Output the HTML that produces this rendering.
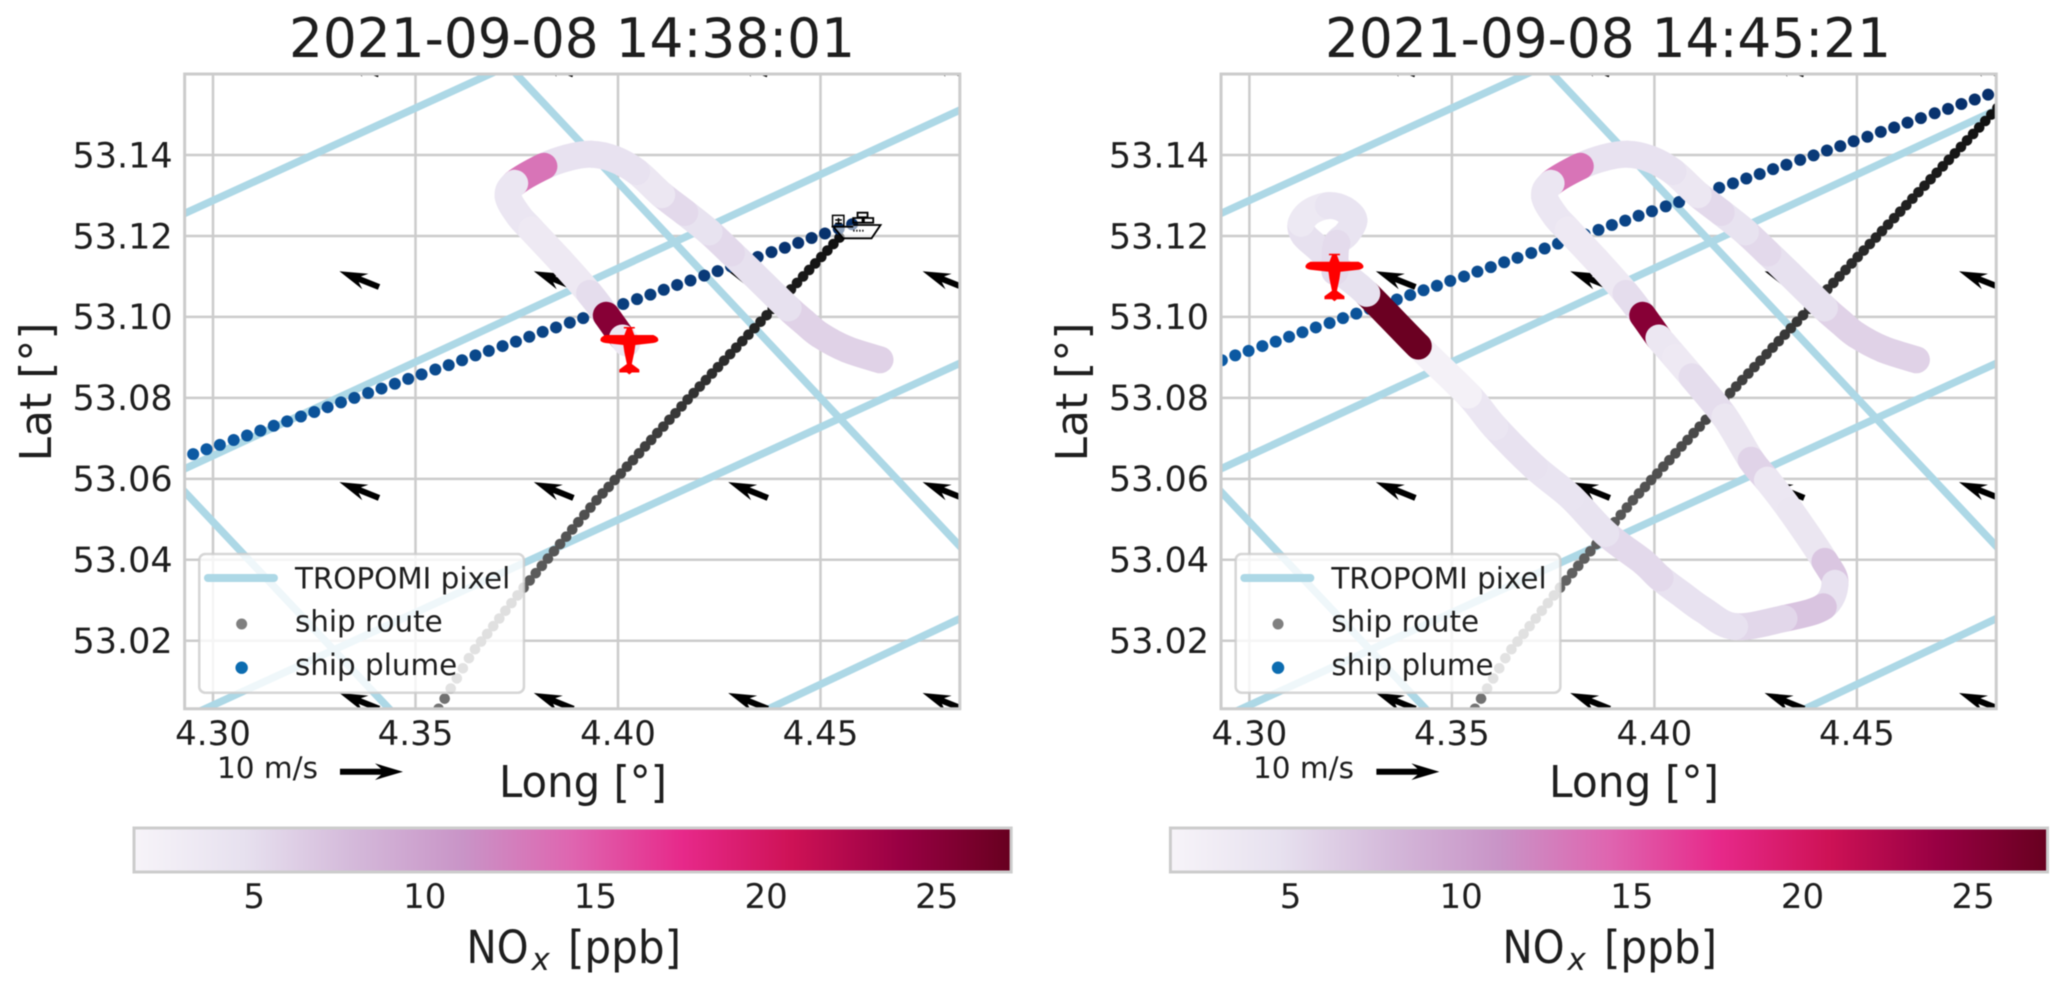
<!DOCTYPE html>
<html lang="en">
<head>
<meta charset="utf-8">
<title>NOx flight track and ship plume</title>
<style>
html,body{margin:0;padding:0;background:#fff;}
svg{display:block;filter:blur(0.4px);}
text{font-family:"DejaVu Sans","Liberation Sans",sans-serif;fill:#1e1e1e;}
</style>
</head>
<body>
<svg id="figure" xmlns="http://www.w3.org/2000/svg" width="2067" height="990" viewBox="0 0 2067 990">
  <defs>
    <linearGradient id="purd-gradient">
      <stop offset="0" stop-color="#f7f4f9"/><stop offset="0.125" stop-color="#e7e1ef"/>
      <stop offset="0.25" stop-color="#d4b9da"/><stop offset="0.375" stop-color="#c994c7"/>
      <stop offset="0.5" stop-color="#df65b0"/><stop offset="0.625" stop-color="#e7298a"/>
      <stop offset="0.75" stop-color="#ce1256"/><stop offset="0.875" stop-color="#980043"/>
      <stop offset="1" stop-color="#67001f"/>
    </linearGradient>
  </defs>
  <rect x="0" y="0" width="2067" height="990" fill="#ffffff"/>

  <g id="panel-a">
    <text x="572" y="57" font-size="54" text-anchor="middle" textLength="566" lengthAdjust="spacingAndGlyphs">2021-09-08 14:38:01</text>
    <text x="51" y="392" font-size="44" text-anchor="middle" transform="rotate(-90 51 392)">Lat [°]</text>
    <text x="499" y="797" font-size="44" textLength="168" lengthAdjust="spacingAndGlyphs">Long [°]</text>
    <text x="217" y="778" font-size="29.5">10 m/s</text>
    <text x="466.5" y="963" font-size="45" textLength="62" lengthAdjust="spacingAndGlyphs">NO</text>
    <text x="531.5" y="970" font-size="31" font-style="italic">x</text>
    <text x="568" y="963" font-size="45" textLength="113" lengthAdjust="spacingAndGlyphs">[ppb]</text>
  </g>

  <g id="panel-b">
    <text x="1608" y="57" font-size="54" text-anchor="middle" textLength="566" lengthAdjust="spacingAndGlyphs">2021-09-08 14:45:21</text>
    <text x="1087" y="392" font-size="44" text-anchor="middle" transform="rotate(-90 1087 392)">Lat [°]</text>
    <text x="1549" y="797" font-size="44" textLength="170" lengthAdjust="spacingAndGlyphs">Long [°]</text>
    <text x="1253" y="778" font-size="29.5">10 m/s</text>
    <text x="1502.5" y="963" font-size="45" textLength="62" lengthAdjust="spacingAndGlyphs">NO</text>
    <text x="1567.5" y="970" font-size="31" font-style="italic">x</text>
    <text x="1604" y="963" font-size="45" textLength="113" lengthAdjust="spacingAndGlyphs">[ppb]</text>
  </g>
</svg>

<script>
// ---------- axis data ----------
const xTickValues = [4.30, 4.35, 4.40, 4.45];
const xTickLabels = ['4.30', '4.35', '4.40', '4.45'];
const yTickValues = [53.14, 53.12, 53.10, 53.08, 53.06, 53.04, 53.02];
const yTickLabels = ['53.14', '53.12', '53.10', '53.08', '53.06', '53.04', '53.02'];
const lonLimits = [4.293, 4.4844];
const latLimits = [53.0032, 53.16];
const noxLimits = [1.48, 27.18];
const colorbarTickValues = [5, 10, 15, 20, 25];
const colorbarTickLabels = ['5', '10', '15', '20', '25'];

// ---------- TROPOMI pixel edges ----------
const pixelLonStart = [4.29, 4.29, 4.29, 4.43, 4.37, 4.29];
const pixelLatStart = [53.1242, 53.0611, 52.9995, 52.9998, 53.1652, 53.0600];
const pixelLonEnd = [4.38, 4.49, 4.49, 4.49, 4.49, 4.35];
const pixelLatEnd = [53.1653, 53.1537, 53.0911, 53.0281, 53.0374, 52.9963];

// ---------- wind field ----------
const windLons = [4.341, 4.389, 4.437, 4.485];
const windLats = [53.1599, 53.1074, 53.0553, 53.0032];
const windU = [-6.3];
const windV = [2.5];
const windReferenceSpeed = [10];

// ---------- ship route (oldest to newest) ----------
const routeLon = [4.3557,4.3572,4.3587,4.3602,4.3617,4.3632,4.3647,4.3662,4.3677,4.3692,4.3707,4.3722,4.3737,4.3752,4.3767,4.3782,4.3797,4.3812,4.3827,4.3842,4.3857,4.3872,4.3887,4.3902,4.3917,4.3932,4.3947,4.3962,4.3977,4.3992,4.4007,4.4022,4.4037,4.4052,4.4067,4.4082,4.4097,4.4112,4.4127,4.4142,4.4157,4.4172,4.4187,4.4202,4.4217,4.4232,4.4247,4.4262,4.4277,4.4292,4.4307,4.4322,4.4337,4.4352,4.4367,4.4382,4.4397,4.4412,4.4427,4.4442,4.4457,4.4472,4.4487,4.4502,4.4517,4.4532,4.4547,4.4562,4.4577,4.4592,4.4607,4.4622,4.4637,4.4652,4.4667,4.4682,4.4697,4.4712,4.4727,4.4742,4.4757,4.4772,4.4787,4.4802,4.4817,4.4832,4.4847];
const routeLat = [53.0032,53.0057,53.0082,53.0107,53.0132,53.0157,53.0179,53.0198,53.0217,53.0236,53.0255,53.0274,53.0293,53.0312,53.0331,53.0349,53.0367,53.0385,53.0403,53.0421,53.0439,53.0457,53.0475,53.0493,53.0511,53.0529,53.0547,53.0564,53.0580,53.0597,53.0613,53.0630,53.0646,53.0663,53.0680,53.0696,53.0713,53.0729,53.0746,53.0762,53.0779,53.0796,53.0812,53.0828,53.0844,53.0860,53.0876,53.0892,53.0908,53.0924,53.0940,53.0956,53.0972,53.0988,53.1004,53.1020,53.1036,53.1052,53.1068,53.1084,53.1100,53.1116,53.1132,53.1148,53.1164,53.1180,53.1196,53.1212,53.1228,53.1244,53.1260,53.1276,53.1292,53.1308,53.1324,53.1340,53.1356,53.1372,53.1388,53.1404,53.1420,53.1436,53.1452,53.1468,53.1484,53.1500,53.1516];
const routeCountByPanel = [67, 87];

// ---------- ship plume per panel ----------
const plumeLonA = [4.2951,4.2984,4.3017,4.3051,4.3084,4.3117,4.3150,4.3183,4.3217,4.3250,4.3283,4.3316,4.3349,4.3383,4.3416,4.3449,4.3482,4.3515,4.3549,4.3582,4.3615,4.3648,4.3681,4.3715,4.3748,4.3781,4.3814,4.3847,4.3881,4.3914,4.3947,4.3980,4.4013,4.4047,4.4080,4.4113,4.4146,4.4179,4.4213,4.4246,4.4279,4.4312,4.4345,4.4379,4.4412,4.4445,4.4478,4.4511,4.4545,4.4578];
const plumeLatA = [53.0661,53.0673,53.0684,53.0696,53.0707,53.0719,53.0731,53.0742,53.0754,53.0765,53.0777,53.0789,53.0800,53.0812,53.0823,53.0835,53.0847,53.0858,53.0870,53.0881,53.0893,53.0905,53.0916,53.0928,53.0939,53.0951,53.0963,53.0974,53.0986,53.0997,53.1009,53.1021,53.1032,53.1044,53.1055,53.1067,53.1079,53.1090,53.1102,53.1113,53.1125,53.1137,53.1148,53.1160,53.1171,53.1183,53.1195,53.1206,53.1218,53.1229];
const plumeLonB = [4.2932,4.2965,4.2998,4.3032,4.3065,4.3098,4.3131,4.3164,4.3198,4.3231,4.3264,4.3297,4.3330,4.3364,4.3397,4.3430,4.3463,4.3496,4.3530,4.3563,4.3596,4.3629,4.3662,4.3696,4.3729,4.3762,4.3795,4.3828,4.3862,4.3895,4.3928,4.3961,4.3994,4.4028,4.4061,4.4094,4.4127,4.4160,4.4194,4.4227,4.4260,4.4293,4.4326,4.4360,4.4393,4.4426,4.4459,4.4492,4.4526,4.4559,4.4592,4.4625,4.4658,4.4692,4.4725,4.4758,4.4791,4.4824];
const plumeLatB = [53.0893,53.0905,53.0916,53.0928,53.0939,53.0951,53.0962,53.0974,53.0985,53.0997,53.1008,53.1020,53.1031,53.1043,53.1054,53.1066,53.1077,53.1089,53.1100,53.1112,53.1123,53.1135,53.1146,53.1158,53.1169,53.1181,53.1192,53.1204,53.1215,53.1227,53.1238,53.1250,53.1261,53.1273,53.1284,53.1296,53.1307,53.1319,53.1330,53.1342,53.1353,53.1365,53.1376,53.1388,53.1399,53.1411,53.1422,53.1434,53.1445,53.1457,53.1468,53.1480,53.1491,53.1503,53.1514,53.1526,53.1537,53.1549];

// ---------- flight track with NOx ----------
const flightLon = [4.4647,4.4565,4.4499,4.4460,4.4420,4.4334,4.4280,4.4225,4.4165,4.4108,4.4046,4.3990,4.3935,4.3875,4.3817,4.3745,4.3729,4.3755,4.3787,4.3857,4.3930,4.3971,4.4011,4.4022,4.4052,4.4093,4.4174,4.4239,4.4279,4.4336,4.4421,4.4446,4.4417,4.4320,4.4198,4.4121,4.4071,4.4014,4.3972,4.3880,4.3794,4.3703,4.3606,4.3541,4.3417,4.3290,4.3232,4.3175,4.3135,4.3128,4.3151,4.3195,4.3235,4.3258,4.3240,4.3216,4.3211,4.3211];
const flightLat = [53.0894,53.0920,53.0955,53.0987,53.1022,53.1106,53.1158,53.1210,53.1258,53.1302,53.1359,53.1390,53.1402,53.1393,53.1372,53.1330,53.1297,53.1250,53.1215,53.1140,53.1058,53.1004,53.0948,53.0935,53.0900,53.0852,53.0753,53.0646,53.0597,53.0522,53.0396,53.0342,53.0284,53.0255,53.0235,53.0276,53.0312,53.0355,53.0395,53.0465,53.0555,53.0630,53.0728,53.0807,53.0928,53.1058,53.1107,53.1165,53.1202,53.1231,53.1260,53.1275,53.1265,53.1239,53.1205,53.1182,53.1140,53.1112];
const flightNox = [5.9,5.9,5.9,5.9,4.7,4.7,5.3,4.4,5.3,3.7,4.5,4.5,4.5,4.5,13.3,3.8,3.8,3.8,3.3,3.3,5.0,25.1,3.6,3.6,3.3,5.0,3.9,5.8,3.6,3.9,6.9,4.5,7.0,5.5,4.5,4.5,4.5,5.3,5.3,4.4,4.2,4.5,3.8,2.0,26.9,4.6,4.6,4.7,4.7,3.4,3.4,4.2,4.2,4.2,4.2,5.2,5.2,5.2];
const flightCountByPanel = [24, 58];

// ---------- aircraft and ship markers ----------
const planeLon = [4.4028, 4.3210];
const planeLat = [53.0943, 53.1124];
const shipLon = [4.4589];
const shipLat = [53.1223];

// ---------- colormap ----------
const purdStops = ['#f7f4f9','#e7e1ef','#d4b9da','#c994c7','#df65b0','#e7298a','#ce1256','#980043','#67001f'];

// ---------- helpers ----------
const SVGNS = 'http://www.w3.org/2000/svg';
const panelX0 = [213, 1249.4];
const colorbarX0 = [134, 1170.4];
const colorbarPxPerUnit = 34.13;
const axisScale = 4050;

function xScale(p, lon) { return panelX0[p] + (lon - 4.30) * axisScale; }
function yScale(lat) { return 155 + (53.14 - lat) * 4048; }
function cbarScale(p, v) { return colorbarX0[p] + (v - noxLimits[0]) * colorbarPxPerUnit; }

function make(tag, parent, attrs) {
  const el = document.createElementNS(SVGNS, tag);
  for (const k in attrs) el.setAttribute(k, attrs[k]);
  parent.appendChild(el);
  return el;
}
function hexToRgb(h) { return [1, 3, 5].map(function (i) { return parseInt(h.substr(i, 2), 16); }); }
function noxColor(v) {
  const t = Math.max(0, Math.min(1, (v - noxLimits[0]) / (noxLimits[1] - noxLimits[0]))) * (purdStops.length - 1);
  const i = Math.min(purdStops.length - 2, Math.floor(t));
  const a = hexToRgb(purdStops[i]);
  const b = hexToRgb(purdStops[i + 1]);
  const f = t - i;
  return 'rgb(' + a.map(function (c, k) { return Math.round(c + (b[k] - c) * f); }).join(',') + ')';
}
function arrowPoints(tx, ty, dx, dy) {
  const L = Math.hypot(dx, dy);
  const ux = dx / L, uy = dy / L, nx = -uy, ny = ux;
  const shape = [[0, 3], [L - 22, 3], [L - 28, 8.3], [L, 0], [L - 28, -8.3], [L - 22, -3], [0, -3]];
  return shape.map(function (s) {
    return (tx + ux * s[0] + nx * s[1]).toFixed(1) + ',' + (ty + uy * s[0] + ny * s[1]).toFixed(1);
  }).join(' ');
}
function flightSegmentPath(p, i, n) {
  const a = Math.max(i - 1, 0), d = Math.min(i + 2, n - 1);
  const x0 = xScale(p, flightLon[a]), y0 = yScale(flightLat[a]);
  const x1 = xScale(p, flightLon[i]), y1 = yScale(flightLat[i]);
  const x2 = xScale(p, flightLon[i + 1]), y2 = yScale(flightLat[i + 1]);
  const x3 = xScale(p, flightLon[d]), y3 = yScale(flightLat[d]);
  const c1x = x1 + (x2 - x0) / 6, c1y = y1 + (y2 - y0) / 6;
  const c2x = x2 - (x3 - x1) / 6, c2y = y2 - (y3 - y1) / 6;
  return 'M' + x1.toFixed(1) + ' ' + y1.toFixed(1) + 'C' + c1x.toFixed(1) + ' ' + c1y.toFixed(1) + ' ' + c2x.toFixed(1) + ' ' + c2y.toFixed(1) + ' ' + x2.toFixed(1) + ' ' + y2.toFixed(1);
}

function drawPanel(p, root) {
  const left = xScale(p, lonLimits[0]), right = xScale(p, lonLimits[1]);
  const top = yScale(latLimits[1]), bottom = yScale(latLimits[0]);
  const defs = document.querySelector('#figure defs');
  const clip = make('clipPath', defs, { id: 'plot-clip-' + p });
  make('rect', clip, { x: left, y: top, width: right - left, height: bottom - top });

  // grid
  const grid = make('g', root, {});
  
  
  xTickValues.forEach(function (v, i) {
    const line = make('line', grid, { x1: xScale(p, v), x2: xScale(p, v), y1: top, y2: bottom, stroke: '#cccccc', 'stroke-width': 2.5 });
    
    
    const label = make('text', root, { x: xScale(p, v), y: 745, 'font-size': 34, 'text-anchor': 'middle' });
    label.textContent = xTickLabels[i];
    
    
  });
  yTickValues.forEach(function (v, i) {
    const line = make('line', grid, { x1: left, x2: right, y1: yScale(v), y2: yScale(v), stroke: '#cccccc', 'stroke-width': 2.5 });
    
    
    const label = make('text', root, { x: left - 12, y: yScale(v) + 12.3, 'font-size': 35, 'text-anchor': 'end' });
    label.textContent = yTickLabels[i];
    
    
  });

  const plot = make('g', root, { 'clip-path': 'url(#plot-clip-' + p + ')' });
  
  

  // TROPOMI pixels
  pixelLonStart.forEach(function (_, i) {
    const line = make('line', plot, {
      x1: xScale(p, pixelLonStart[i]), y1: yScale(pixelLatStart[i]),
      x2: xScale(p, pixelLonEnd[i]), y2: yScale(pixelLatEnd[i]),
      stroke: '#add8e6', 'stroke-width': 7.5
    });
    
    
  });

  // wind arrows
  windLats.forEach(function (lat) {
    windLons.forEach(function (lon) {
      const s = 6.3;
      const arrow = make('polygon', plot, {
        points: arrowPoints(xScale(p, lon), yScale(lat), windU[0] * s, -windV[0] * s),
        fill: '#000000'
      });
      
      
    });
  });

  // ship route
  const routeN = routeCountByPanel[p];
  for (let i = 0; i < routeN; i++) {
    const age = (routeN - 1 - i) / (routeN - 1);
    const g = Math.round(15 + age * 100);
    const dot = make('circle', plot, { cx: xScale(p, routeLon[i]), cy: yScale(routeLat[i]), r: 5.3, fill: 'rgb(' + g + ',' + g + ',' + g + ')' });
    
    
  }

  // plume
  const pLon = p === 0 ? plumeLonA : plumeLonB;
  const pLat = p === 0 ? plumeLatA : plumeLatB;
  pLon.forEach(function (lon, i) {
    const f = i / (pLon.length - 1);
    const col = 'rgb(' + Math.round(12 - 4 * f) + ',' + Math.round(90 - 42 * f) + ',' + Math.round(163 - 56 * f) + ')';
    const dot = make('circle', plot, { cx: xScale(p, lon), cy: yScale(pLat[i]), r: 6, fill: col });
    
    
  });

  // flight track
  const flightN = flightCountByPanel[p];
  for (let i = 0; i < flightN - 1; i++) {
    const seg = make('path', plot, {
      d: flightSegmentPath(p, i, flightN),
      fill: 'none',
      stroke: noxColor(flightNox[i]), 'stroke-width': 27, 'stroke-linecap': 'round'
    });
    
    
  }

  // ship icon (first panel only)
  if (p === 0) {
    const ship = make('g', plot, { transform: 'translate(' + xScale(p, shipLon[0]) + ' ' + yScale(shipLat[0]) + ') scale(0.3333) translate(-890 -110)', fill: 'none', stroke: '#000000', 'stroke-width': 5.5 });
    
    
    make('path', ship, { d: 'M818 110V76H852V110M826 90H846M826 100H846M836 84V104', 'stroke-width': 4.5 });
    make('path', ship, { d: 'M815 110H880M880 105H962L935 145H850L822 112' , fill: '#ffffff', 'fill-opacity': 0.55 });
    make('path', ship, { d: 'M893 68H923V82H893ZM880 84H908V98H880ZM912 84H940V98H912Z' });
    make('path', ship, { d: 'M880 122H915', 'stroke-dasharray': '4 5' });
  }

  // aircraft
  const plane = make('path', plot, {
    transform: 'translate(' + xScale(p, planeLon[p]) + ' ' + yScale(planeLat[p]) + ')',
    d: 'M-5.5 -13H5.5V-11.5H2.5L5 -5H24Q29 -3 29 0Q29 2 24 3L6 5L5 12L2.5 24L10 29.5V32.5H2.5L0 34.5L-2.5 32.5H-10V29.5L-2.5 24L-5 12L-6 5L-24 3Q-29 2 -29 0Q-29 -3 -24 -5H-5L-2.5 -11.5H-5.5Z',
    fill: '#ff0000'
  });
  
  

  // spines
  const frame = make('rect', root, { x: left, y: top, width: right - left, height: bottom - top, fill: 'none', stroke: '#cccccc', 'stroke-width': 3 });
  
  

  // legend
  const dx = left - 184.7;
  const legend = make('g', root, {});
  
  
  const box = make('rect', legend, { x: 199.3 + dx, y: 554, width: 324.7, height: 138.7, rx: 6, ry: 6, fill: '#ffffff', 'fill-opacity': 0.8, stroke: '#cccccc', 'stroke-opacity': 0.8, 'stroke-width': 2.5 });
  
  
  const swatch = make('line', legend, { x1: 208 + dx, x2: 274 + dx, y1: 578, y2: 578, stroke: '#add8e6', 'stroke-width': 8, 'stroke-linecap': 'round' });
  
  
  const routeSwatch = make('circle', legend, { cx: 241.7 + dx, cy: 624, r: 5.5, fill: '#808080' });
  
  
  const plumeSwatch = make('circle', legend, { cx: 241.7 + dx, cy: 667.7, r: 6.2, fill: '#0c6cb0' });
  
  
  const t1 = make('text', legend, { x: 295 + dx, y: 588.3, 'font-size': 29.4 });
  t1.textContent = 'TROPOMI pixel';
  
  
  const t2 = make('text', legend, { x: 295 + dx, y: 631.7, 'font-size': 29.4 });
  t2.textContent = 'ship route';
  
  
  const t3 = make('text', legend, { x: 295 + dx, y: 675, 'font-size': 29.4 });
  t3.textContent = 'ship plume';
  
  

  // reference wind arrow
  const ref = make('polygon', root, {
    points: arrowPoints(340 + dx, 771.7, windReferenceSpeed[0] * 6.3, 0),
    fill: '#000000'
  });
  
  

  // colorbar
  const cx0 = cbarScale(p, noxLimits[0]), cx1 = cbarScale(p, noxLimits[1]);
  const bar = make('rect', root, { x: cx0, y: 828, width: cx1 - cx0, height: 44, fill: 'url(#purd-gradient)', stroke: '#cccccc', 'stroke-width': 3 });
  
  
  colorbarTickValues.forEach(function (v, i) {
    const label = make('text', root, { x: cbarScale(p, v), y: 908, 'font-size': 34, 'text-anchor': 'middle' });
    label.textContent = colorbarTickLabels[i];
    
    
  });
}

drawPanel(0, document.getElementById('panel-a'));
drawPanel(1, document.getElementById('panel-b'));
</script>
</body>
</html>
